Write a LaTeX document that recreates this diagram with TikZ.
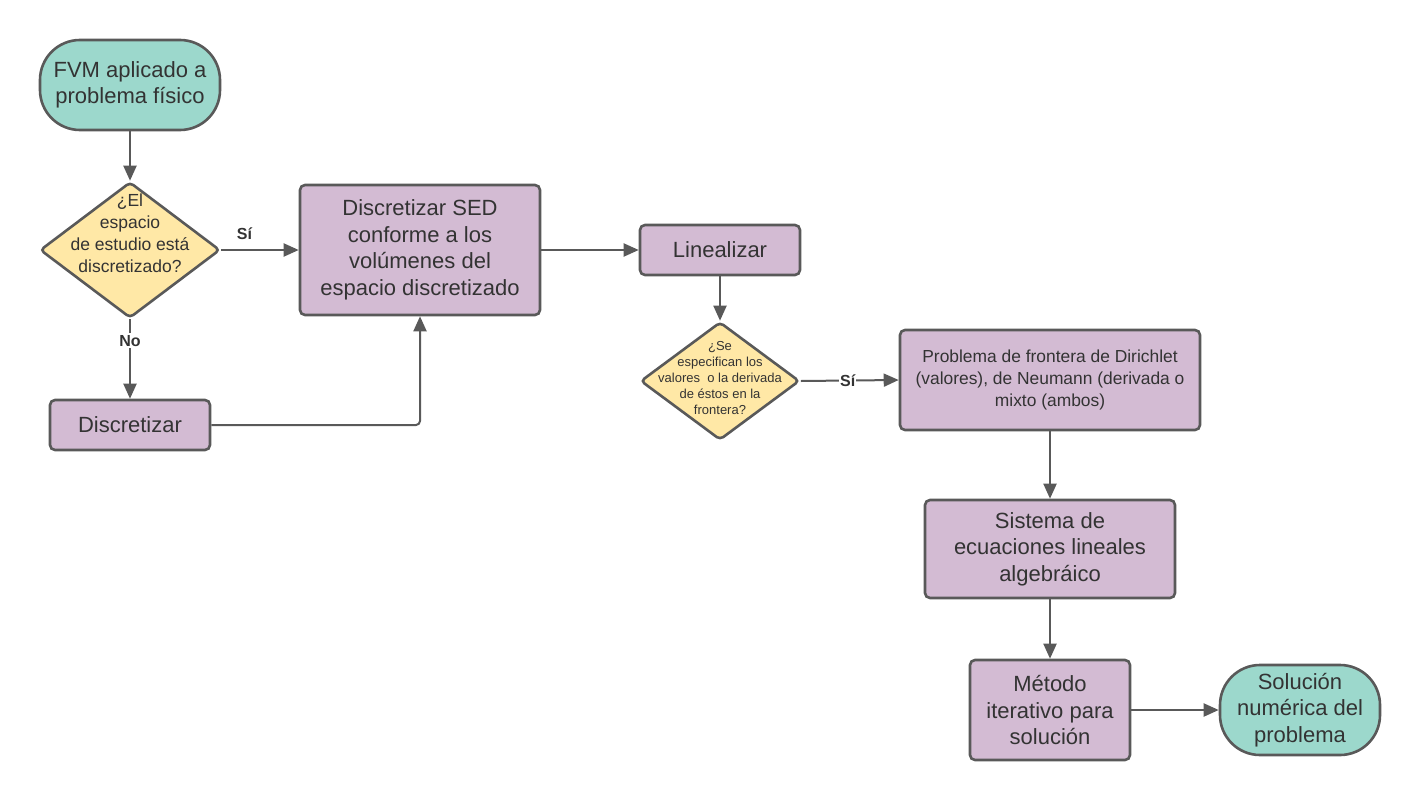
\documentclass[tikz,border=0pt]{standalone}
\usepackage{fontspec}
\setmainfont{Liberation Sans}
\usetikzlibrary{shapes.geometric,arrows.meta}
\definecolor{edgegray}{HTML}{595959}
\definecolor{txtgray}{HTML}{333333}
\definecolor{tealfill}{HTML}{9CD8CC}
\definecolor{purpfill}{HTML}{D3BBD3}
\definecolor{yelfill}{HTML}{FFE8A6}
\tikzset{
  every node/.style={text=txtgray},
  base/.style={draw=edgegray, line width=2.6pt, align=center, inner sep=0pt},
  terminal/.style={base, fill=tealfill, rounded corners=40pt},
  procbox/.style={base, fill=purpfill, rounded corners=5pt},
  decision/.style={base, fill=yelfill, diamond, rounded corners=4pt},
  big/.style={font=\fontsize{22}{26.5}\selectfont},
  mid/.style={font=\fontsize{17.4}{22}\selectfont},
  flow/.style={draw=edgegray, line width=2pt, -{Triangle[length=15pt,width=13pt]}},
  lbl/.style={font=\fontsize{16}{18}\selectfont\bfseries, text=txtgray},
}
\begin{document}
\begin{tikzpicture}[x=1pt,y=-1pt]
\useasboundingbox (0,0) rectangle (1420,800);
% nodes
\node[terminal, big, minimum width=180pt, minimum height=90pt] (start) at (130,85) {FVM aplicado a\\problema físico};
\node[decision, minimum width=180pt, minimum height=136pt,
  label={[font=\fontsize{17.5}{22}\selectfont, align=center, text=txtgray, yshift=17pt]center:¿El\\espacio\\de estudio está\\discretizado?}] (d1) at (130,250) {};
\node[procbox, big, minimum width=240pt, minimum height=130pt] (sed) at (420,250) {Discretizar SED\\conforme a los\\volúmenes del\\espacio discretizado};
\node[procbox, big, minimum width=160pt, minimum height=50pt] (disc) at (130,425) {Discretizar};
\node[procbox, big, minimum width=160pt, minimum height=50pt] (lin) at (720,250) {Linealizar};
\node[decision, minimum width=159pt, minimum height=118pt,
  label={[font=\fontsize{13}{16}\selectfont, align=center, text=txtgray, yshift=3pt]center:¿Se\\especifican los\\valores\ \ o la derivada\\de éstos en la\\frontera?}] (d2) at (720,381) {};
\node[procbox, mid, minimum width=300pt, minimum height=100pt] (dir) at (1050,380) {Problema de frontera de Dirichlet\\(valores), de Neumann (derivada o\\mixto (ambos)};
\node[procbox, big, minimum width=250pt, minimum height=98pt] (sis) at (1050,549) {Sistema de\\ecuaciones lineales\\algebráico};
\node[procbox, big, minimum width=160pt, minimum height=100pt] (met) at (1050,710) {Método\\iterativo para\\solución};
\node[terminal, big, minimum width=160pt, minimum height=90pt] (sol) at (1300,710) {Solución\\numérica del\\problema};
% connectors
\draw[flow] (start) -- (d1);
\draw[flow] (d1) -- node[lbl, above=6pt, pos=0.3] {Sí} (sed);
\draw[flow] (d1) -- node[lbl, fill=white, inner sep=2pt, pos=0.27] {No} (disc);
\draw[flow, rounded corners=4pt] (disc.east) -| (sed.south);
\draw[flow] (sed) -- (lin);
\draw[flow] (lin) -- (d2);
\draw[flow] (d2.east) -- node[lbl, fill=white, inner sep=1pt, pos=0.48] {Sí} (dir.west);
\draw[flow] (dir) -- (sis);
\draw[flow] (sis) -- (met);
\draw[flow] (met) -- (sol);
\end{tikzpicture}
\end{document}
